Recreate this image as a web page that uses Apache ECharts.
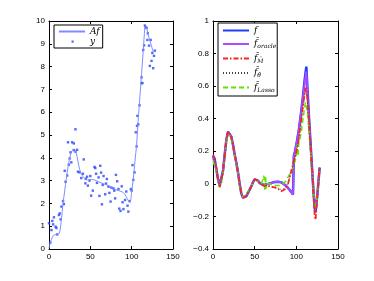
<!DOCTYPE html>
<html><head><meta charset="utf-8">
<script src="https://cdn.jsdelivr.net/npm/echarts@6/dist/echarts.min.js"></script>
<style>html,body{margin:0;padding:0;background:#fff}#c{width:374px;height:281px}</style>
</head><body><div id="c"></div>
<script>
// ---------- left panel data ----------
const afX = [0,1,3,5,7,9,11,13,15,17,19,21,23,25,27,29,31,33,35,37,39,41,43,45,48,51,54,57,60,63,66,69,72,75,78,81,84,87,90,92,94,96,98,100,102,104,106,108,110,112,114,116,117,118,120,122,124,126];
const afY = [0.03,0.2,0.42,0.58,0.63,0.62,0.63,0.75,1.3,2.0,2.55,3.1,3.6,3.98,4.25,4.34,4.33,4.2,3.85,3.5,3.3,3.18,3.1,3.04,3.03,3.05,3.04,3.0,2.95,2.9,2.86,2.82,2.78,2.73,2.67,2.6,2.56,2.53,2.47,2.38,2.25,2.12,2.05,2.5,3.1,3.85,4.6,5.7,6.7,7.7,8.7,9.7,9.78,9.72,9.4,9.15,8.9,8.65];
const obsX = [0,1.6,3,4,5,6,8,9,10,12,13,14,15,17,18,19,20,22,23,24,25,26,27,28,30,30,32,32,34,35,37,39,41,42,44,44.5,46,47,49,50,51,53,55,56,57,58,60,61,62,63,64,65,66,68,69,70,72,73,74.5,75.5,78,79,80,81,82.5,84,85,86.5,88,89,90,92,93.5,95,96,97.5,99,100,101,102,103.5,105,106,106.5,107,108,109.5,112,112,113,114,115,116,117,118,119,119.5,121,122,123,124,125,126,127,128];
const obsY = [1.13,0.28,0.83,1.23,1.08,1.39,0.98,0.92,0.64,1.49,1.56,1.3,1.86,2.1,1.97,3.43,2.95,3.22,4.68,3.7,3.97,4.24,3.8,4.68,4.63,4.34,4.27,5.25,4.35,3.39,3.36,3.11,3.3,3.93,2.88,3.08,3.17,2.78,3.0,3.2,2.34,2.56,3.6,3.55,3.3,2.9,3.14,2.33,3.65,3.35,1.96,2.81,3.2,2.4,2.87,3.07,2.73,2.46,2.08,2.69,2.66,2.56,2.22,3.25,2.97,2.63,1.77,1.67,2.75,2.05,1.75,2.15,2.52,1.9,1.64,2.1,2.63,2.56,3.68,3.03,3.36,5.12,4.5,5.4,5.84,5.47,6.3,7.27,7.53,7.28,8.73,8.93,9.8,9.72,9.7,9.17,9.46,8.92,8.03,9.17,8.25,8.6,7.93,8.47,8.7];

// ---------- right panel data ----------
const xs = [0,2,4,6,8,9,10,12,14,16,18,19,20,22,24,26,28,30,32,34,36,37,38,40,42,44,46,48,50,52,54,56,58,60,61,62,63,64,65,66,68,70,72,74,76,78,80,82,84,86,88,90,92,94,96,97,98,100,101,102,103,104,106,108,110,111,112,113,114,116,118,120,121,122,123,124,126,128];
const fTrue = [0.17,0.15,0.09,0.03,-0.01,-0.015,0.0,0.08,0.18,0.27,0.32,0.33,0.32,0.29,0.24,0.18,0.13,0.07,0.0,-0.06,-0.085,-0.09,-0.088,-0.075,-0.055,-0.035,-0.015,0.01,0.028,0.03,0.02,0.005,-0.003,-0.005,-0.005,-0.005,-0.004,-0.003,-0.002,0.0,0.003,0.006,0.009,0.011,0.013,0.013,0.012,0.009,0.003,-0.005,-0.015,-0.025,-0.037,-0.05,-0.065,0.17,0.19,0.24,0.27,0.3,0.33,0.37,0.45,0.54,0.64,0.68,0.72,0.62,0.52,0.34,0.17,0.0,-0.08,-0.15,-0.17,-0.13,-0.02,0.1];
const fOracle = [0.16,0.15,0.09,0.03,-0.01,-0.015,0.0,0.08,0.18,0.27,0.32,0.33,0.32,0.29,0.24,0.18,0.13,0.07,0.0,-0.06,-0.085,-0.09,-0.088,-0.075,-0.055,-0.035,-0.015,0.01,0.028,0.03,0.02,0.005,-0.003,-0.005,-0.005,-0.005,-0.004,-0.003,-0.002,0.0,0.003,0.006,0.009,0.011,0.013,0.013,0.012,0.009,0.003,-0.005,-0.015,-0.025,-0.037,-0.05,-0.065,0.17,0.19,0.24,0.27,0.3,0.33,0.37,0.45,0.53,0.62,0.66,0.69,0.6,0.5,0.33,0.16,0.0,-0.08,-0.14,-0.16,-0.12,-0.02,0.1];
const fM = [0.18,0.16,0.1,0.03,-0.02,-0.025,-0.01,0.07,0.17,0.27,0.32,0.33,0.32,0.29,0.24,0.18,0.13,0.07,0.0,-0.06,-0.085,-0.09,-0.088,-0.075,-0.055,-0.035,-0.015,0.01,0.028,0.03,0.02,0.005,-0.005,-0.01,-0.01,-0.012,-0.012,-0.012,-0.013,-0.014,-0.016,-0.018,-0.02,-0.022,-0.025,-0.03,-0.04,-0.045,-0.042,-0.035,-0.02,0.0,0.04,0.08,0.12,0.14,0.16,0.2,0.22,0.25,0.28,0.32,0.4,0.48,0.56,0.59,0.6,0.55,0.48,0.32,0.16,0.0,-0.1,-0.19,-0.22,-0.16,-0.02,0.1];
const fTheta = [0.17,0.16,0.1,0.03,-0.02,-0.025,-0.01,0.07,0.17,0.27,0.32,0.33,0.32,0.29,0.24,0.18,0.13,0.07,0.0,-0.06,-0.085,-0.09,-0.088,-0.075,-0.055,-0.035,-0.015,0.01,0.028,0.03,0.02,0.005,-0.004,-0.008,-0.008,-0.01,-0.01,-0.01,-0.011,-0.012,-0.013,-0.015,-0.017,-0.019,-0.021,-0.025,-0.032,-0.036,-0.034,-0.028,-0.015,0.005,0.04,0.075,0.11,0.13,0.15,0.19,0.21,0.24,0.27,0.31,0.39,0.47,0.54,0.57,0.57,0.53,0.46,0.31,0.15,0.0,-0.09,-0.17,-0.2,-0.15,-0.02,0.1];
const fLasso = [0.14,0.13,0.08,0.02,-0.02,-0.02,-0.005,0.07,0.17,0.26,0.31,0.32,0.31,0.28,0.23,0.17,0.12,0.06,-0.01,-0.06,-0.08,-0.08,-0.075,-0.06,-0.05,-0.035,-0.015,0.01,0.025,0.025,0.015,0.005,0.0,0.0,0.05,-0.04,0.05,-0.03,0.0,0.0,0.0,-0.005,-0.005,-0.01,-0.01,-0.01,-0.01,-0.005,0.0,0.01,0.02,0.04,0.06,0.08,0.1,0.11,0.13,0.17,0.24,0.17,0.25,0.27,0.32,0.4,0.47,0.5,0.5,0.45,0.4,0.27,0.13,0.0,-0.07,-0.13,-0.15,-0.12,-0.02,0.08];

const zip = (a, b) => a.map((v, i) => [v, b[i]]);

const tickFont = {fontFamily: 'Liberation Sans, Arial, sans-serif', fontSize: 8, color: '#000'};
function xAx(grid, pos, show) {
  return {type: 'value', gridIndex: grid, position: pos, min: 0, max: 150, interval: 50,
    axisLine: {show: true, onZero: false, lineStyle: {color: '#000', width: 1}},
    axisTick: {show: true, inside: true, length: 3, lineStyle: {color: '#000'}},
    axisLabel: Object.assign({show: show, margin: 4}, tickFont),
    splitLine: {show: false}};
}
function yAx(grid, pos, show, mn, mx, iv) {
  return {type: 'value', gridIndex: grid, position: pos, min: mn, max: mx, interval: iv,
    axisLine: {show: true, onZero: false, lineStyle: {color: '#000', width: 1}},
    axisTick: {show: true, inside: true, length: 3, lineStyle: {color: '#000'}},
    axisLabel: Object.assign({show: show, margin: 4, formatter: v => String(Math.round(v * 10) / 10).replace('-', '\u2212')}, tickFont),
    splitLine: {show: false}};
}

const labelMap = {
  'Af': '{i|Af}',
  'y': '{i|y}',
  'f': '{i|f}',
  'f_oracle': '{i|f\u0302}{s|oracle}',
  'f_M': '{i|f\u0302}{s|M\u0302}',
  'f_theta': '{i|f\u0302}{s|\u03b8\u0302}',
  'f_Lasso': '{i|f\u0302}{s|Lasso}'
};
const legText = {
  fontFamily: 'DejaVu Serif, serif', fontStyle: 'italic', fontSize: 9, color: '#000',
  rich: {
    i: {fontFamily: 'DejaVu Serif, serif', fontStyle: 'italic', fontSize: 9, color: '#000'},
    s: {fontFamily: 'DejaVu Serif, serif', fontStyle: 'italic', fontSize: 6, color: '#000', padding: [5, 0, 0, 0]}
  }
};
const dotIcon = 'path://M0 0M26 8M12.5 3h2.2v2.2h-2.2z';
const hideSym = {opacity: 0};

const chart = echarts.init(document.getElementById('c'), null, {renderer: 'canvas'});
chart.setOption({
  animation: false,
  backgroundColor: '#fff',
  grid: [
    {left: 49, width: 124, top: 21, height: 228},
    {left: 213, width: 125, top: 21, height: 228}
  ],
  xAxis: [xAx(0, 'bottom', true), xAx(1, 'bottom', true), xAx(0, 'top', false), xAx(1, 'top', false)],
  yAxis: [yAx(0, 'left', true, 0, 10, 1), yAx(1, 'left', true, -0.4, 1, 0.2), yAx(0, 'right', false, 0, 10, 1), yAx(1, 'right', false, -0.4, 1, 0.2)],
  legend: [
    {data: [{name: 'Af', itemStyle: hideSym}, {name: 'y', icon: dotIcon, itemStyle: {color: '#2444ff'}}],
     orient: 'vertical', left: 54, top: 25, itemWidth: 26, itemHeight: 8, itemGap: 1,
     padding: [2, 3, 2, 4], borderColor: '#000', borderWidth: 1, backgroundColor: '#fff',
     formatter: n => labelMap[n], textStyle: legText},
    {data: ['f', 'f_oracle', 'f_M', 'f_theta', 'f_Lasso'].map(n => ({name: n, itemStyle: hideSym})),
     orient: 'vertical', left: 218, top: 23,
     itemWidth: 26, itemHeight: 10, itemGap: 4.5, padding: [3, 1, 3, 4], borderColor: '#000', borderWidth: 1,
     backgroundColor: '#fff', formatter: n => labelMap[n], textStyle: legText}
  ],
  series: [
    {name: 'Af', type: 'line', xAxisIndex: 0, yAxisIndex: 0, data: zip(afX, afY), showSymbol: false, symbol: 'none',
     smooth: 0.3, lineStyle: {color: '#7f8cff', width: 1}, itemStyle: {color: '#7f8cff'}},
    {name: 'y', type: 'scatter', xAxisIndex: 0, yAxisIndex: 0, data: zip(obsX, obsY), symbol: 'rect', symbolSize: 2.4,
     itemStyle: {color: '#2444ff'}},
    {name: 'f', type: 'line', xAxisIndex: 1, yAxisIndex: 1, data: zip(xs, fTrue), symbol: 'none',
     lineStyle: {color: '#1f3cff', width: 2.5}, itemStyle: {color: '#1f3cff'}},
    {name: 'f_oracle', type: 'line', xAxisIndex: 1, yAxisIndex: 1, data: zip(xs, fOracle), symbol: 'none',
     lineStyle: {color: '#b04cff', width: 1.8}, itemStyle: {color: '#b04cff'}},
    {name: 'f_Lasso', type: 'line', xAxisIndex: 1, yAxisIndex: 1, data: zip(xs, fLasso), symbol: 'none',
     lineStyle: {color: '#5ce600', width: 1.5, type: [5, 3]}, itemStyle: {color: '#5ce600'}},
    {name: 'f_theta', type: 'line', xAxisIndex: 1, yAxisIndex: 1, data: zip(xs, fTheta), symbol: 'none',
     lineStyle: {color: '#444', width: 1, type: [1, 2]}, itemStyle: {color: '#444'}},
    {name: 'f_M', type: 'line', xAxisIndex: 1, yAxisIndex: 1, data: zip(xs, fM), symbol: 'none',
     lineStyle: {color: '#ff2222', width: 1.8, type: [5, 2, 1.5, 2]}, itemStyle: {color: '#ff2222'}}
  ]
});
</script></body></html>
